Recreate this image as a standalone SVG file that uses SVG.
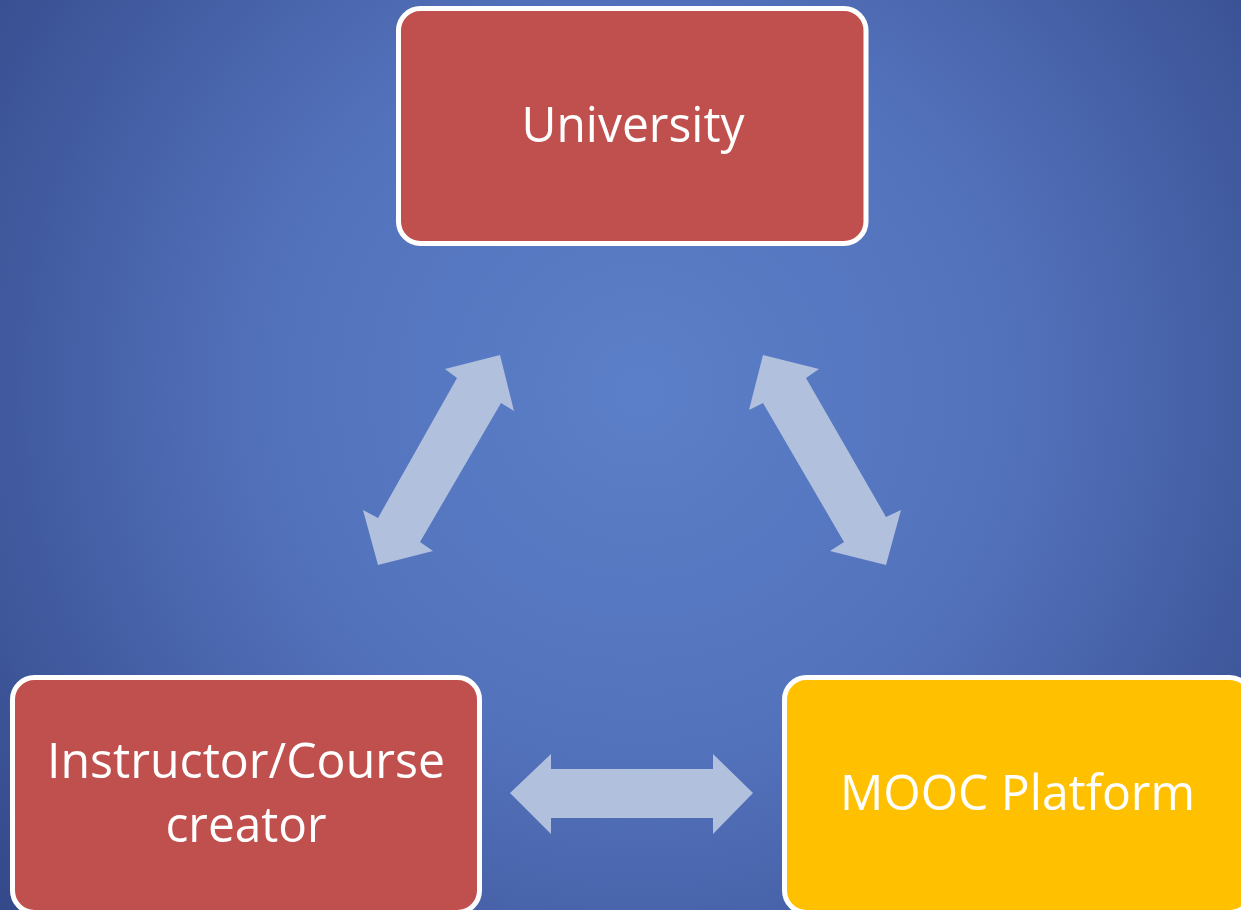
<svg xmlns="http://www.w3.org/2000/svg" width="1241" height="910" viewBox="0 0 1241 910">
  <defs>
    <radialGradient id="bg" cx="640" cy="390" r="820" gradientUnits="userSpaceOnUse">
      <stop offset="0" stop-color="#5B7FC8"/>
      <stop offset="0.45" stop-color="#5372BC"/>
      <stop offset="1" stop-color="#34498A"/>
    </radialGradient>
  </defs>
  <style>
    .box { stroke: #FFFFFF; stroke-width: 5; }
    .red { fill: #C0504D; }
    .gold { fill: #FFC000; }
    .label { font-family: "Open Sans", "Liberation Sans", sans-serif; font-size: 50px; fill: #FFFFFF; text-anchor: middle; }
    .link { fill: #B1C1DD; }
  </style>

  <rect width="1241" height="910" fill="url(#bg)"/>

  <g id="connectors">
    <!-- University <-> Instructor -->
    <polygon class="link" points="500,355 514,411 501,403 420,542 433,551 378,565 363,510 378,518 457,378 445,369"/>
    <!-- University <-> MOOC Platform -->
    <polygon class="link" points="763,355 819,369 806,378 886,517 901,510 886,565 830,551 844,542 763,403 749,410"/>
    <!-- Instructor <-> MOOC Platform -->
    <polygon class="link" points="510,793 551,754 551,769 713,769 713,754 753,793 713,834 713,818 551,818 551,834"/>
  </g>

  <g id="university">
    <rect class="box red" x="398.5" y="8.5" width="467.5" height="235" rx="22" ry="22"/>
    <text class="label" x="633" y="142" textLength="223" lengthAdjust="spacingAndGlyphs">University</text>
  </g>

  <g id="instructor">
    <rect class="box red" x="12.5" y="677.5" width="467" height="235" rx="22" ry="22"/>
    <text class="label" x="246" y="778" textLength="398" lengthAdjust="spacingAndGlyphs">Instructor/Course</text>
    <text class="label" x="246" y="842" textLength="161" lengthAdjust="spacingAndGlyphs">creator</text>
  </g>

  <g id="mooc-platform">
    <rect class="box gold" x="784.5" y="677.5" width="467" height="235" rx="22" ry="22"/>
    <text class="label" x="1017.5" y="810" textLength="355" lengthAdjust="spacingAndGlyphs">MOOC Platform</text>
  </g>
</svg>
